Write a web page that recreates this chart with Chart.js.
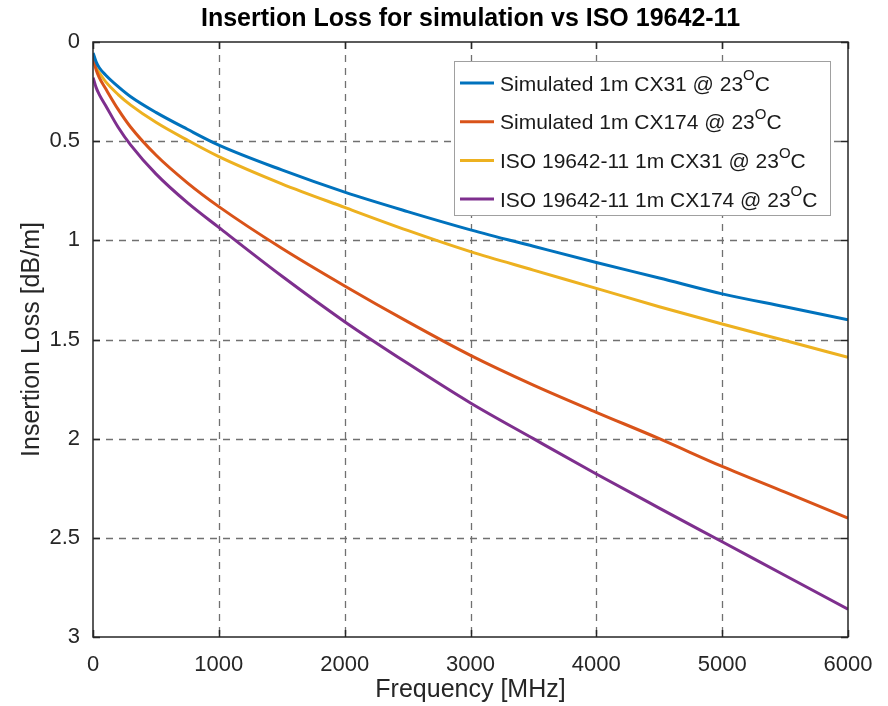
<!DOCTYPE html>
<html>
<head>
<meta charset="utf-8">
<script src="https://cdn.jsdelivr.net/npm/chart.js@4"></script>
<style>
  html, body { margin: 0; padding: 0; background: #fff; }
  #wrap { width: 888px; height: 706px; }
</style>
</head>
<body>
<div id="wrap"><canvas id="lossChart" width="888" height="706"></canvas></div>
<script>
const freqMHz = [1, 25, 50, 100, 200, 300, 500, 750, 1000, 1500, 2000, 2500, 3000, 3500, 4000, 4500, 5000, 5500, 6000];

const simCX31 = [0.055, 0.10, 0.13, 0.166, 0.225, 0.276, 0.355, 0.44, 0.52, 0.645, 0.757, 0.855, 0.947, 1.03, 1.112, 1.19, 1.27, 1.335, 1.40];
const simCX174 = [0.08, 0.14, 0.18, 0.235, 0.34, 0.43, 0.57, 0.71, 0.83, 1.04, 1.23, 1.41, 1.58, 1.73, 1.867, 2.0, 2.14, 2.27, 2.40];
const isoCX31 = [0.09, 0.13, 0.155, 0.20, 0.265, 0.318, 0.405, 0.495, 0.578, 0.715, 0.834, 0.95, 1.057, 1.15, 1.242, 1.335, 1.422, 1.505, 1.59];
const isoCX174 = [0.18, 0.23, 0.265, 0.32, 0.43, 0.52, 0.665, 0.81, 0.935, 1.18, 1.41, 1.62, 1.82, 2.0, 2.178, 2.35, 2.52, 2.69, 2.86];

const seriesNames = [
    'Simulated 1m CX31 @ 23',
    'Simulated 1m CX174 @ 23',
    'ISO 19642-11 1m CX31 @ 23',
    'ISO 19642-11 1m CX174 @ 23'
];
const xTicks = [0, 1000, 2000, 3000, 4000, 5000, 6000];
const yTicks = [0, 0.5, 1, 1.5, 2, 2.5, 3];

const COLORS = ['#0072BD', '#D95319', '#EDB120', '#7E2F8E'];
const FONT = '"Liberation Sans", Arial, Helvetica, sans-serif';

function toPoints(ys) {
    return freqMHz.map((f, i) => ({ x: f, y: ys[i] }));
}

// dashed grid, inner ticks, box, titles and in-plot legend (MATLAB look)
const matlabAxes = {
    id: 'matlabAxes',
    beforeDatasetsDraw(chart) {
        const { ctx, chartArea: a, scales } = chart;
        ctx.save();
        ctx.strokeStyle = '#707070';
        ctx.lineWidth = 1.3;
        ctx.setLineDash([7, 6]);
        xTicks.slice(1, -1).forEach(v => {
            const px = Math.round(scales.x.getPixelForValue(v)) + 0.5;
            ctx.beginPath(); ctx.moveTo(px, a.top); ctx.lineTo(px, a.bottom); ctx.stroke();
        });
        yTicks.slice(1, -1).forEach(v => {
            const py = Math.round(scales.y.getPixelForValue(v)) + 0.5;
            ctx.beginPath(); ctx.moveTo(a.left, py); ctx.lineTo(a.right, py); ctx.stroke();
        });
        ctx.restore();
    },
    afterDatasetsDraw(chart) {
        const { ctx, chartArea: a, scales } = chart;
        ctx.save();
        ctx.strokeStyle = '#262626';
        ctx.lineWidth = 1.5;
        ctx.setLineDash([]);
        const t = 7;
        xTicks.forEach(v => {
            const px = Math.round(scales.x.getPixelForValue(v)) + 0.5;
            ctx.beginPath();
            ctx.moveTo(px, a.bottom); ctx.lineTo(px, a.bottom - t);
            ctx.moveTo(px, a.top); ctx.lineTo(px, a.top + t);
            ctx.stroke();
        });
        yTicks.forEach(v => {
            const py = Math.round(scales.y.getPixelForValue(v)) + 0.5;
            ctx.beginPath();
            ctx.moveTo(a.left, py); ctx.lineTo(a.left + t, py);
            ctx.moveTo(a.right, py); ctx.lineTo(a.right - t, py);
            ctx.stroke();
        });
        ctx.strokeRect(a.left, a.top, a.right - a.left, a.bottom - a.top);

        // title and axis titles
        ctx.fillStyle = '#000';
        ctx.font = 'bold 25px ' + FONT;
        ctx.textAlign = 'center';
        ctx.textBaseline = 'middle';
        ctx.fillText('Insertion Loss for simulation vs ISO 19642-11', (a.left + a.right) / 2, 19);

        ctx.fillStyle = '#262626';
        ctx.font = '25px ' + FONT;
        ctx.fillText('Frequency [MHz]', (a.left + a.right) / 2, 690);
        ctx.save();
        ctx.translate(32, (a.top + a.bottom) / 2);
        ctx.rotate(-Math.PI / 2);
        ctx.fillText('Insertion Loss [dB/m]', 0, 0);
        ctx.restore();

        // legend
        const lx = 454, ly = 61, lw = 376, lh = 154;
        ctx.fillStyle = '#fff';
        ctx.fillRect(lx, ly, lw, lh);
        ctx.strokeStyle = '#a0a0a0';
        ctx.lineWidth = 1;
        ctx.strokeRect(lx + 0.5, ly + 0.5, lw, lh);
        seriesNames.forEach((name, i) => {
            const cy = 83 + i * 38.7;
            ctx.strokeStyle = COLORS[i];
            ctx.lineWidth = 3;
            ctx.beginPath(); ctx.moveTo(460, cy); ctx.lineTo(494, cy); ctx.stroke();
            ctx.fillStyle = '#1a1a1a';
            ctx.textAlign = 'left';
            ctx.textBaseline = 'middle';
            ctx.font = '21px ' + FONT;
            let x = 500;
            ctx.fillText(name, x, cy + 2);
            x += ctx.measureText(name).width;
            ctx.font = '15px ' + FONT;
            ctx.fillText('O', x, cy - 7);
            x += ctx.measureText('O').width;
            ctx.font = '21px ' + FONT;
            ctx.fillText('C', x, cy + 2);
        });
        ctx.restore();
    }
};

new Chart(document.getElementById('lossChart'), {
    type: 'scatter',
    data: {
        datasets: [simCX31, simCX174, isoCX31, isoCX174].map((ys, i) => ({
            label: seriesNames[i],
            data: toPoints(ys),
            showLine: true,
            borderColor: COLORS[i],
            backgroundColor: COLORS[i],
            borderWidth: 3,
            pointRadius: 0,
            cubicInterpolationMode: 'monotone'
        }))
    },
    options: {
        responsive: false,
        animation: false,
        layout: { padding: { top: 42, right: 40, left: 0, bottom: 0 } },
        plugins: {
            legend: { display: false },
            tooltip: { enabled: false },
            title: { display: false }
        },
        scales: {
            x: {
                type: 'linear',
                min: 0, max: 6000,
                afterBuildTicks: s => { s.ticks = xTicks.map(v => ({ value: v })); },
                afterFit: s => { s.height = 69; },
                grid: { display: false },
                border: { display: false },
                ticks: { color: '#262626', font: { size: 22, family: FONT }, padding: 7, maxRotation: 0,
                         callback: v => String(v) }
            },
            y: {
                type: 'linear',
                reverse: true,
                min: 0, max: 3,
                afterBuildTicks: s => { s.ticks = yTicks.map(v => ({ value: v })); },
                afterFit: s => { s.width = 93; },
                grid: { display: false },
                border: { display: false },
                ticks: { color: '#262626', font: { size: 22, family: FONT }, padding: 5,
                         callback: v => String(v) }
            }
        }
    },
    plugins: [matlabAxes]
});
</script>
</body>
</html>
